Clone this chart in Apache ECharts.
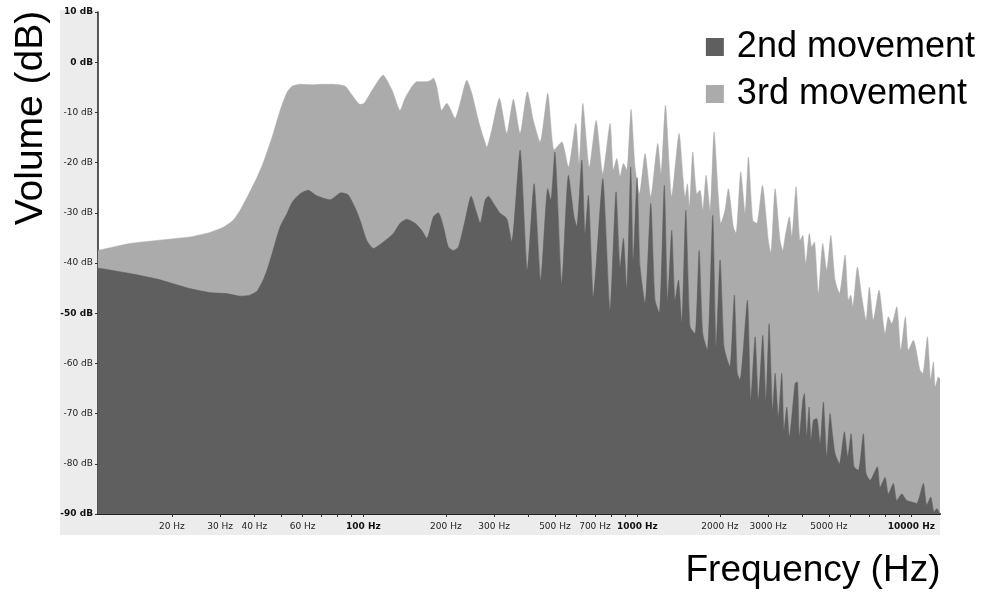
<!DOCTYPE html>
<html>
<head>
<meta charset="utf-8">
<script src="https://cdn.jsdelivr.net/npm/echarts@6/dist/echarts.min.js"></script>
<style>
  html, body { margin: 0; padding: 0; background: #ffffff; }
  #chart { width: 983px; height: 592px; }
</style>
</head>
<body>
<div id="chart"></div>
<script>
// Spectrum of the 3rd movement (Hz, dB)
const freq3 = [10.75, 14.08, 17.66, 23.3, 27.57, 30.76, 33.46, 35.48, 37.63, 40.93,
  43.05, 46.45, 49.66, 52.67, 54.95, 58.75, 65.5, 69.5, 77.5, 85.8,
  91.0, 97.3, 100.6, 107.6, 118, 127.3, 136.1, 141.9, 150.2, 156.7,
  167.9, 175.1, 180.1, 185.3, 193.2, 201.6, 207.3, 216.1, 225.4, 238.5,
  248.7, 262.8, 274.2, 282.2, 294.1, 313.6, 333.8, 352.7, 373.2, 396.7,
  417.3, 441.5, 470.9, 496.6, 529.9, 560.1, 596, 612.8, 632.2, 667.9,
  707, 747.8, 795.1, 817.4, 841.1, 864.9, 889.1, 915, 948.4, 980.9,
  1017, 1067, 1119, 1187, 1220, 1266, 1335, 1420, 1494, 1522,
  1548, 1593, 1648, 1694, 1733, 1781, 1842, 1905, 1975, 2016,
  2089, 2148, 2241, 2292, 2384, 2472, 2542, 2637, 2728, 2859,
  3007, 3069, 3182, 3318, 3394, 3460, 3587, 3660, 3795, 3925,
  4015, 4117, 4243, 4330, 4426, 4577, 4749, 4912, 5080, 5267,
  5461, 5728, 5890, 6010, 6111, 6353, 6592, 6833, 7025, 7265,
  7620, 8017, 8242, 8480, 8845, 9147, 9508, 9752, 10170, 10760,
  11010, 11440, 11770, 12030, 12230, 12540, 12720];
const vol3 = [-37.5, -36.1, -35.5, -34.8, -33.9, -32.9, -31.5, -29.5, -26.9, -22.9,
  -20.1, -14.9, -9.6, -6.0, -4.8, -4.4, -4.5, -4.4, -4.4, -4.8,
  -6.6, -8.4, -8.2, -5.6, -2.6, -5.6, -9.6, -7.2, -4.9, -3.9,
  -3.9, -3.7, -3.2, -4.9, -9.6, -8.2, -9.2, -11.2, -8.2, -3.6,
  -6.2, -11.6, -15.0, -16.9, -13.5, -7.2, -14.2, -7.4, -14.2, -5.9,
  -11.6, -15.9, -6.2, -17.5, -15.9, -20.9, -12.2, -20.2, -8.2, -20.9,
  -11.6, -22.2, -12.2, -21.5, -19.2, -22.8, -20.2, -21.5, -9.4, -21.0,
  -26.2, -18.2, -26.8, -16.2, -22.2, -8.6, -26.8, -14.2, -26.8, -24.2,
  -28.8, -17.9, -26.2, -25.5, -29.5, -22.5, -29.5, -13.9, -26.8, -32.1,
  -29.5, -25.2, -32.8, -34.1, -21.8, -30.1, -18.9, -31.5, -32.1, -24.5,
  -35.5, -38.1, -25.2, -35.5, -37.5, -34.8, -30.8, -34.8, -24.8, -35.5,
  -34.5, -40.1, -34.1, -36.8, -35.8, -46.1, -36.1, -41.4, -34.5, -43.4,
  -46.1, -38.4, -47.4, -46.4, -48.7, -40.8, -46.7, -51.4, -44.8, -51.4,
  -45.4, -54.1, -50.7, -52.1, -48.7, -57.4, -50.7, -57.4, -55.4, -61.4,
  -62.0, -54.7, -63.3, -59.7, -64.7, -62.7, -63.0];

// Spectrum of the 2nd movement (Hz, dB)
const freq2 = [10.75, 14.08, 17.66, 23.3, 27.57, 31.7, 35.48, 38.6, 40.93, 43.05,
  44.5, 46.45, 49.66, 52.67, 54.95, 58.75, 62.83, 67.6, 75.6, 82.9,
  87.9, 93.3, 97.3, 102.9, 108.8, 118.3, 128.7, 136.1, 144, 154.4,
  163.3, 170.4, 180.1, 187.8, 195.9, 204.2, 213.1, 222.2, 235.1, 247.3,
  259.3, 266.7, 278.1, 285.9, 298.3, 315.4, 329, 335.4, 347.9, 373.2,
  396.7, 419.8, 444, 470.9, 483.1, 499.6, 529.9, 560.2, 587.5, 600.9,
  626.9, 644.5, 662.3, 690.7, 710.9, 747.7, 795.1, 836.2, 864.9, 889,
  914.8, 946, 966.9, 997.5, 1023, 1067, 1119, 1160, 1203, 1254,
  1291, 1335, 1373, 1412, 1452, 1502, 1557, 1624, 1680, 1733,
  1801, 1884, 1938, 2004, 2072, 2131, 2179, 2259, 2317, 2370,
  2521, 2594, 2690, 2765, 2869, 2949, 3025, 3120, 3182, 3270,
  3365, 3431, 3510, 3587, 3763, 3836, 3901, 4015, 4069, 4152,
  4233, 4305, 4389, 4516, 4643, 4773, 4912, 5050, 5166, 5267,
  5461, 5695, 5860, 6025, 6179, 6406, 6680, 6833, 7067, 7515,
  7688, 8017, 8242, 8597, 8845, 9226, 9620, 10030, 10460, 11060,
  11380, 11770, 12100, 12380, 12720];
const vol2 = [-41, -42.1, -43.2, -45.1, -45.9, -46.1, -46.6, -46.4, -45.6, -43.4,
  -41.4, -38.1, -32.8, -30.1, -27.9, -26.2, -25.5, -26.6, -27.4, -26.0,
  -26.4, -29.0, -31.5, -35.5, -37.1, -35.8, -34.1, -32.1, -31.3, -32.1,
  -33.5, -35.1, -30.8, -30.0, -32.8, -36.8, -37.5, -36.8, -31.5, -26.7,
  -30.1, -32.1, -27.5, -26.7, -28.1, -30.1, -30.8, -31.5, -35.8, -17.5,
  -41.4, -24.2, -43.4, -25.2, -27.5, -17.9, -44.1, -22.5, -30.8, -32.8,
  -19.5, -34.1, -26.5, -46.7, -38.8, -23.2, -49.4, -25.8, -40.8, -35.1,
  -45.4, -20.9, -39.4, -23.0, -40.8, -48.1, -28.1, -47.4, -50.0, -24.5,
  -47.4, -33.5, -47.4, -43.4, -52.1, -29.5, -52.7, -54.1, -37.5, -54.1,
  -57.4, -30.5, -56.7, -39.4, -56.7, -59.4, -60.7, -46.4, -62.0, -63.3,
  -47.4, -67.3, -54.7, -67.3, -54.4, -67.3, -52.1, -69.3, -62.0, -70.6,
  -62.0, -73.3, -68.7, -74.6, -64.0, -63.7, -74.6, -67.3, -66.0, -74.6,
  -68.7, -75.3, -71.3, -71.0, -76.0, -67.7, -78.6, -70.0, -74.6, -78.0,
  -80.0, -73.6, -78.6, -74.0, -80.6, -81.3, -74.0, -81.9, -83.3, -80.6,
  -84.7, -82.7, -86.0, -83.9, -87.3, -86.0, -87.3, -87.6, -87.9, -83.9,
  -88.2, -86.6, -89.6, -88.9, -90];

// Axis ticks and labels
const freqRange = [10.75, 12720];
const tickFreqs = [20, 30, 40, 50, 60, 70, 80, 90,
  100, 200, 300, 400, 500, 600, 700, 800, 900,
  1000, 2000, 3000, 4000, 5000, 6000, 7000, 8000, 9000, 10000];
const labelFreqs = [20, 30, 40, 60, 100, 200, 300, 500, 700, 1000, 2000, 3000, 5000, 10000];
const boldFreqs = [100, 1000, 10000];
const boldDb = [10, 0, -50, -90];
const seriesNames = ['2nd movement', '3rd movement'];

const DARK = '#5f5f5f';
const LIGHT = '#ababab';
const tickFont = 'DejaVu Sans';
const bigFont = '"Liberation Sans", Arial, sans-serif';

const toPoints = (fs, vs) => fs.map((f, i) => [Math.log10(f), vs[i]]);

const chart = echarts.init(document.getElementById('chart'), null, { renderer: 'canvas' });

chart.setOption({
  animation: false,
  backgroundColor: '#ffffff',
  grid: { left: 98, right: 43, top: 12, bottom: 78, containLabel: false },
  legend: {
    orient: 'vertical',
    right: 8,
    top: 29,
    padding: 0,
    itemGap: 11,
    itemWidth: 18,
    itemHeight: 18,
    icon: 'rect',
    data: seriesNames,
    selectedMode: false,
    textStyle: {
      fontFamily: bigFont,
      fontSize: 36,
      lineHeight: 36,
      color: '#000',
      padding: [0, 0, 0, 8]
    }
  },
  xAxis: {
    type: 'value',
    min: Math.log10(freqRange[0]),
    max: Math.log10(freqRange[1]),
    axisLine: { onZero: false, lineStyle: { color: '#222', width: 2 } },
    axisTick: {
      customValues: tickFreqs.map(Math.log10),
      length: 3,
      lineStyle: { color: '#333', width: 1 }
    },
    axisLabel: {
      customValues: labelFreqs.map(Math.log10),
      margin: 8,
      fontFamily: tickFont,
      fontSize: 9,
      color: '#222',
      formatter: v => {
        const hz = Math.round(Math.pow(10, v));
        return boldFreqs.includes(hz) ? '{b|' + hz + ' Hz}' : hz + ' Hz';
      },
      rich: { b: { fontFamily: tickFont, fontSize: 9, fontWeight: 'bold', color: '#111' } }
    },
    splitLine: { show: false }
  },
  yAxis: {
    type: 'value',
    min: -90,
    max: 10,
    interval: 10,
    axisLine: { show: true, onZero: false, lineStyle: { color: '#222', width: 1.5 } },
    axisTick: { show: true, length: 3, lineStyle: { color: '#333' } },
    axisLabel: {
      margin: 5,
      fontFamily: tickFont,
      fontSize: 9,
      color: '#222',
      formatter: v => boldDb.includes(v) ? '{b|' + v + ' dB}' : v + ' dB',
      rich: { b: { fontFamily: tickFont, fontSize: 9, fontWeight: 'bold', color: '#111' } }
    },
    splitLine: { show: false }
  },
  graphic: [
    { type: 'rect', z: -10, silent: true, shape: { x: 60, y: 10, width: 38, height: 525 }, style: { fill: '#ececec' } },
    { type: 'rect', z: -10, silent: true, shape: { x: 60, y: 515, width: 880, height: 20 }, style: { fill: '#ececec' } },
    {
      type: 'text', x: 31, y: 118, rotation: Math.PI / 2, silent: true,
      style: { text: 'Volume (dB)', fontFamily: bigFont, fontSize: 39, fill: '#000', align: 'center', verticalAlign: 'middle' }
    },
    {
      type: 'text', x: 813, y: 571, silent: true,
      style: { text: 'Frequency (Hz)', fontFamily: bigFont, fontSize: 37, fill: '#000', align: 'center', verticalAlign: 'middle' }
    }
  ],
  series: [
    {
      name: seriesNames[1],
      type: 'line',
      data: toPoints(freq3, vol3),
      showSymbol: false,
      silent: true,
      smooth: 0.2,
      itemStyle: { color: LIGHT },
      lineStyle: { color: LIGHT, width: 0.5 },
      areaStyle: { color: LIGHT, opacity: 1, origin: 'start' },
      z: 2
    },
    {
      name: seriesNames[0],
      type: 'line',
      data: toPoints(freq2, vol2),
      showSymbol: false,
      silent: true,
      smooth: 0.2,
      itemStyle: { color: DARK },
      lineStyle: { color: DARK, width: 0.5 },
      areaStyle: { color: DARK, opacity: 1, origin: 'start' },
      z: 3
    }
  ]
});
</script>
</body>
</html>
